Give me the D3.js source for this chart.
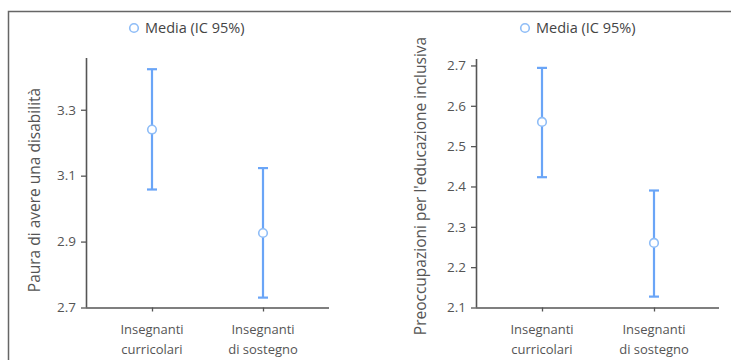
<!DOCTYPE html>
<html><head><meta charset="utf-8">
<script src="https://cdn.jsdelivr.net/npm/d3@7"></script>
<style>
body{margin:0;background:#fff;}
svg{display:block;font-family:"Open Sans","Noto Sans",sans-serif;}
</style></head>
<body><svg id="c" width="731" height="360"></svg>
<script>
const categories = ["Insegnanti\ncurricolari", "Insegnanti\ndi sostegno"];
const legendLabel = "Media (IC 95%)";

const titleLeft = "Paura di avere una disabilità";
const meanLeft  = [3.24, 2.926];
const lowLeft   = [3.058, 2.73];
const highLeft  = [3.423, 3.123];
const ticksLeft = [2.7, 2.9, 3.1, 3.3];
const domainLeft = [2.7, 3.457];

const titleRight = "Preoccupazioni per l'educazione inclusiva";
const meanRight  = [2.56, 2.26];
const lowRight   = [2.423, 2.127];
const highRight  = [2.694, 2.39];
const ticksRight = [2.1, 2.2, 2.3, 2.4, 2.5, 2.6, 2.7];
const domainRight = [2.1, 2.716];

const svg = d3.select("#c");
const barColor = "#6aa5f7", dotColor = "#8fbdf7", axisColor = "#555", textColor = "#555";

// frame
svg.append("path").attr("d","M8.5,360 V11.5 H731").attr("fill","none").attr("stroke","#666").attr("stroke-width",1.5);

function panel(o){
  const g = svg.append("g");
  const y = d3.scaleLinear().domain(o.domain).range([o.bottom, o.top]);
  const x = d3.scalePoint().domain(categories).range(o.xr).padding(0);
  // axes
  const ya = g.append("g").attr("transform",`translate(${o.left},0)`)
    .call(d3.axisLeft(y).tickValues(o.ticks).tickFormat(d3.format(".1f")).tickSize(5).tickPadding(5).tickSizeOuter(0));
  const xa = g.append("g").attr("transform",`translate(0,${o.bottom})`)
    .call(d3.axisBottom(x).tickSize(4).tickFormat("").tickSizeOuter(0));
  [ya,xa].forEach(a=>{
    a.select(".domain").attr("stroke",axisColor).attr("stroke-width",1.6);
    a.selectAll(".tick line").attr("stroke",axisColor).attr("stroke-width",1.3);
  });
  xa.select(".domain").attr("d",`M${o.left},0.5H${o.xEnd}`);
  ya.select(".domain").attr("d",`M0.5,${o.top}V${o.bottom}`);
  ya.selectAll(".tick text").attr("fill",textColor).style("font-size","13.5px").style("font-family","'Open Sans',sans-serif");
  // x labels
  categories.forEach(c=>{
    const lines = c.split("\n");
    const t = g.append("text").attr("x",x(c)).attr("text-anchor","middle").attr("fill",textColor).style("font-size","13px");
    lines.forEach((l,i)=>t.append("tspan").attr("x",x(c)).attr("y",o.bottom+26+i*20).text(l));
  });
  // y title
  g.append("text").attr("transform",`translate(${o.titleX},${o.titleY}) rotate(-90)`).attr("text-anchor","middle")
    .attr("fill",textColor).style("font-size","15.5px").text(o.title);
  // error bars
  const idx = d3.range(categories.length);
  const eb = g.selectAll(".eb").data(idx).enter().append("g");
  eb.append("line").attr("x1",i=>x(categories[i])).attr("x2",i=>x(categories[i]))
    .attr("y1",i=>y(o.low[i])).attr("y2",i=>y(o.high[i])).attr("stroke",barColor).attr("stroke-width",2.2);
  eb.append("line").attr("x1",i=>x(categories[i])-5).attr("x2",i=>x(categories[i])+5)
    .attr("y1",i=>y(o.high[i])).attr("y2",i=>y(o.high[i])).attr("stroke",barColor).attr("stroke-width",2.2);
  eb.append("line").attr("x1",i=>x(categories[i])-5).attr("x2",i=>x(categories[i])+5)
    .attr("y1",i=>y(o.low[i])).attr("y2",i=>y(o.low[i])).attr("stroke",barColor).attr("stroke-width",2.2);
  eb.append("circle").attr("cx",i=>x(categories[i])).attr("cy",i=>y(o.mean[i])).attr("r",4.3)
    .attr("fill","#fff").attr("stroke",dotColor).attr("stroke-width",1.6);
  // legend
  g.append("circle").attr("cx",o.legX).attr("cy",28).attr("r",4.3).attr("fill","#fff").attr("stroke",dotColor).attr("stroke-width",1.6);
  g.append("text").attr("x",o.legX+11).attr("y",33).attr("fill","#444").style("font-size","14.5px").text(legendLabel);
}

panel({left:86, xr:[152,263], xEnd:329, top:58, bottom:307.5, domain:domainLeft, ticks:ticksLeft,
  mean:meanLeft, low:lowLeft, high:highLeft, title:titleLeft, titleX:40, titleY:190, legX:134});
panel({left:476, xr:[542,654], xEnd:719, top:59, bottom:307.5, domain:domainRight, ticks:ticksRight,
  mean:meanRight, low:lowRight, high:highRight, title:titleRight, titleX:426, titleY:186, legX:525});
</script></body></html>
